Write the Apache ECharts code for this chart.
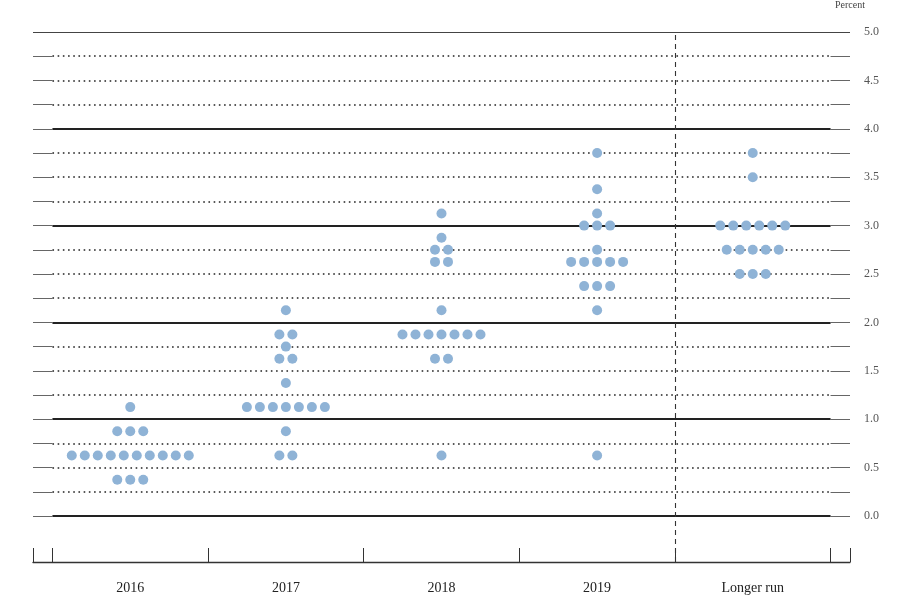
<!DOCTYPE html>
<html>
<head>
<meta charset="utf-8">
<script src="https://cdn.jsdelivr.net/npm/echarts@6/dist/echarts.min.js"></script>
<style>html,body{margin:0;padding:0;background:#fff}#c{width:902px;height:601px}</style>
</head>
<body>
<div id="c"></div>
<script>
// Categories (x) and participants' projections: [rate, number of dots]
const categories = ['2016', '2017', '2018', '2019', 'Longer run'];
const dots2016 = [[1.125, 1], [0.875, 3], [0.625, 10], [0.375, 3]];
const dots2017 = [[2.125, 1], [1.875, 2], [1.75, 1], [1.625, 2], [1.375, 1], [1.125, 7], [0.875, 1], [0.625, 2]];
const dots2018 = [[3.125, 1], [2.875, 1], [2.75, 2], [2.625, 2], [2.125, 1], [1.875, 7], [1.625, 2], [0.625, 1]];
const dots2019 = [[3.75, 1], [3.375, 1], [3.125, 1], [3.0, 3], [2.75, 1], [2.625, 5], [2.375, 3], [2.125, 1], [0.625, 1]];
const dotsLonger = [[3.75, 1], [3.5, 1], [3.0, 6], [2.75, 5], [2.5, 3]];
const allDots = [dots2016, dots2017, dots2018, dots2019, dotsLonger];

// Horizontal reference levels and y tick labels
const gridLevels = [0, 0.25, 0.5, 0.75, 1, 1.25, 1.5, 1.75, 2, 2.25, 2.5, 2.75, 3, 3.25, 3.5, 3.75, 4, 4.25, 4.5, 4.75, 5];
const yLabels = [0, 0.5, 1, 1.5, 2, 2.5, 3, 3.5, 4, 4.5, 5];
const xBoundaries = [-0.125, 0, 1, 2, 3, 4, 5, 5.125];
const yMin = -0.475, yMax = 5;

const DOT_GAP = 13;
const scatterData = [];
allDots.forEach((groups, ci) => {
  groups.forEach(([rate, n]) => {
    for (let i = 0; i < n; i++) {
      scatterData.push({ value: [ci + 0.5, rate], symbolOffset: [(i - (n - 1) / 2) * DOT_GAP, 0] });
    }
  });
});

const xLo = xBoundaries[0], xHi = xBoundaries[xBoundaries.length - 1];
const xStart = 0, xEnd = categories.length;
const lines = [];
gridLevels.forEach(v => {
  const isInt = Number.isInteger(v);
  const isTop = v === yMax;
  const stubStyle = { color: '#666', width: 1, type: 'solid' };
  if (isTop) {
    lines.push([{ coord: [xLo, v], lineStyle: { color: '#444', width: 1.1, type: 'solid' } }, { coord: [xHi, v] }]);
    return;
  }
  lines.push([{ coord: [xLo, v], lineStyle: stubStyle }, { coord: [xStart, v] }]);
  lines.push([{ coord: [xEnd, v], lineStyle: stubStyle }, { coord: [xHi, v] }]);
  lines.push([{ coord: [xStart, v], lineStyle: isInt ? { color: '#222', width: 2, type: 'solid' } : { color: '#222', width: 1.6, type: [1.6, 3.6] } }, { coord: [xEnd, v] }]);
});
// vertical dashed separator before "Longer run"
lines.push([{ coord: [categories.length - 1, yMin], lineStyle: { color: '#333', width: 1.1, type: [5, 4] } }, { coord: [categories.length - 1, yMax] }]);

const chart = echarts.init(document.getElementById('c'));
chart.setOption({
  animation: false,
  backgroundColor: '#fff',
  grid: { left: 33, right: 52, top: 32, bottom: 39 },
  xAxis: {
    type: 'value', min: xLo, max: xHi,
    axisLine: { show: true, onZero: false, lineStyle: { color: '#333', width: 1.4 } },
    axisTick: { show: true, inside: true, length: 14, customValues: xBoundaries, lineStyle: { color: '#333', width: 1 } },
    axisLabel: {
      customValues: categories.map((c, i) => i + 0.5),
      formatter: v => categories[Math.round(v - 0.5)],
      fontFamily: 'Liberation Serif', fontSize: 14, color: '#222', margin: 19
    },
    splitLine: { show: false }
  },
  yAxis: {
    type: 'value', position: 'right', min: yMin, max: yMax,
    name: 'Percent', nameLocation: 'end', nameGap: 22,
    nameTextStyle: { fontFamily: 'Liberation Serif', fontSize: 10, color: '#444', align: 'center' },
    axisLine: { show: false, onZero: false }, axisTick: { show: false }, splitLine: { show: false },
    axisLabel: {
      customValues: yLabels, formatter: v => v.toFixed(1),
      fontFamily: 'Liberation Serif', fontSize: 12, color: '#555', margin: 14
    }
  },
  series: [
    {
      type: 'scatter', data: [], z: 1, silent: true,
      markLine: { silent: true, symbol: 'none', label: { show: false }, animation: false, data: lines }
    },
    {
      type: 'scatter', z: 5, symbol: 'circle', symbolSize: 10,
      itemStyle: { color: '#8fb3d6', opacity: 1 },
      data: scatterData
    }
  ]
});
</script>
</body>
</html>
